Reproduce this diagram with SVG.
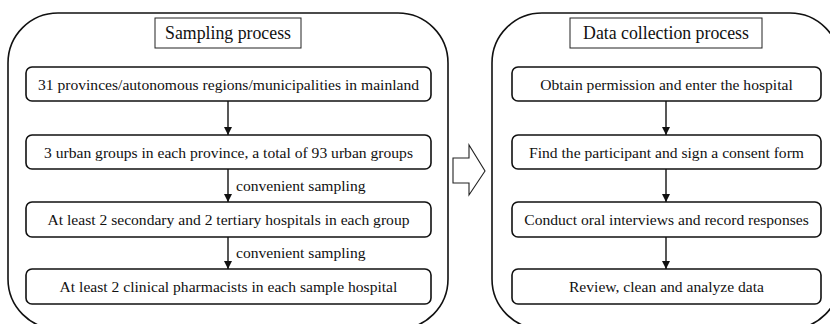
<svg xmlns="http://www.w3.org/2000/svg" width="830" height="324" viewBox="0 0 830 324">
<defs>
<marker id="ah" viewBox="0 0 8 10" refX="8" refY="5" markerWidth="8" markerHeight="10" markerUnits="userSpaceOnUse" orient="auto">
<path d="M0,1 L8,5 L0,9 Z" fill="#111"/>
</marker>
<style>
.frame{fill:#fff;stroke:#111;stroke-width:1.6}
.title{fill:#fff;stroke:#222;stroke-width:1}
.box{fill:#fff;stroke:#111;stroke-width:1.6}
.t{font-family:"Liberation Serif","Times New Roman",serif;font-size:15.6px;fill:#111;text-anchor:middle}
.tt{font-family:"Liberation Serif","Times New Roman",serif;font-size:17.8px;fill:#111;text-anchor:middle}
.lbl{font-family:"Liberation Serif","Times New Roman",serif;font-size:15.6px;fill:#111}
.conn{stroke:#111;stroke-width:1.4;fill:none}
</style>
</defs>
<rect width="830" height="324" fill="#fff"/>
<g id="frame-sampling">
<rect class="frame" x="8" y="13" width="440" height="316" rx="50" ry="50"/>
</g>
<g id="frame-data">
<rect class="frame" x="492" y="13" width="348" height="316" rx="50" ry="50"/>
</g>
<g id="title-sampling">
<rect class="title" x="155" y="18" width="146" height="30"/>
<text class="tt" x="228" y="39">Sampling process</text>
</g>
<g id="title-data">
<rect class="title" x="570" y="18" width="192" height="30"/>
<text class="tt" x="666" y="39">Data collection process</text>
</g>
<g id="s1">
<rect class="box" x="26" y="67" width="405" height="34" rx="6"/>
<text class="t" x="228.5" y="89.5">31 provinces/autonomous regions/municipalities in mainland</text>
</g>
<g id="s2">
<rect class="box" x="26" y="135" width="405" height="34" rx="6"/>
<text class="t" x="228.5" y="157.5">3 urban groups in each province, a total of 93 urban groups</text>
</g>
<g id="s3">
<rect class="box" x="26" y="202" width="405" height="35" rx="6"/>
<text class="t" x="228.5" y="225">At least 2 secondary and 2 tertiary hospitals in each group</text>
</g>
<g id="s4">
<rect class="box" x="26" y="269" width="405" height="35" rx="6"/>
<text class="t" x="228.5" y="292">At least 2 clinical pharmacists in each sample hospital</text>
</g>
<g id="d1">
<rect class="box" x="512" y="67" width="309" height="34" rx="6"/>
<text class="t" x="666.5" y="89.5">Obtain permission and enter the hospital</text>
</g>
<g id="d2">
<rect class="box" x="512" y="135" width="309" height="34" rx="6"/>
<text class="t" x="666.5" y="157.5">Find the participant and sign a consent form</text>
</g>
<g id="d3">
<rect class="box" x="512" y="202" width="309" height="35" rx="6"/>
<text class="t" x="666.5" y="225">Conduct oral interviews and record responses</text>
</g>
<g id="d4">
<rect class="box" x="512" y="269" width="309" height="35" rx="6"/>
<text class="t" x="666.5" y="292">Review, clean and analyze data</text>
</g>
<g id="connectors">
<line class="conn" x1="228" y1="101" x2="228" y2="135" marker-end="url(#ah)"/>
<line class="conn" x1="228" y1="169" x2="228" y2="202" marker-end="url(#ah)"/>
<line class="conn" x1="228" y1="237" x2="228" y2="269" marker-end="url(#ah)"/>
<text class="lbl" x="236" y="191">convenient sampling</text>
<text class="lbl" x="236" y="258">convenient sampling</text>
<line class="conn" x1="666" y1="101" x2="666" y2="135" marker-end="url(#ah)"/>
<line class="conn" x1="666" y1="169" x2="666" y2="202" marker-end="url(#ah)"/>
<line class="conn" x1="666" y1="237" x2="666" y2="269" marker-end="url(#ah)"/>
<path d="M453,158 L469,158 L469,145 L485,171 L469,195 L469,183 L453,183 Z" fill="#fff" stroke="#222" stroke-width="1.1" stroke-linejoin="miter"/>
</g>
</svg>
